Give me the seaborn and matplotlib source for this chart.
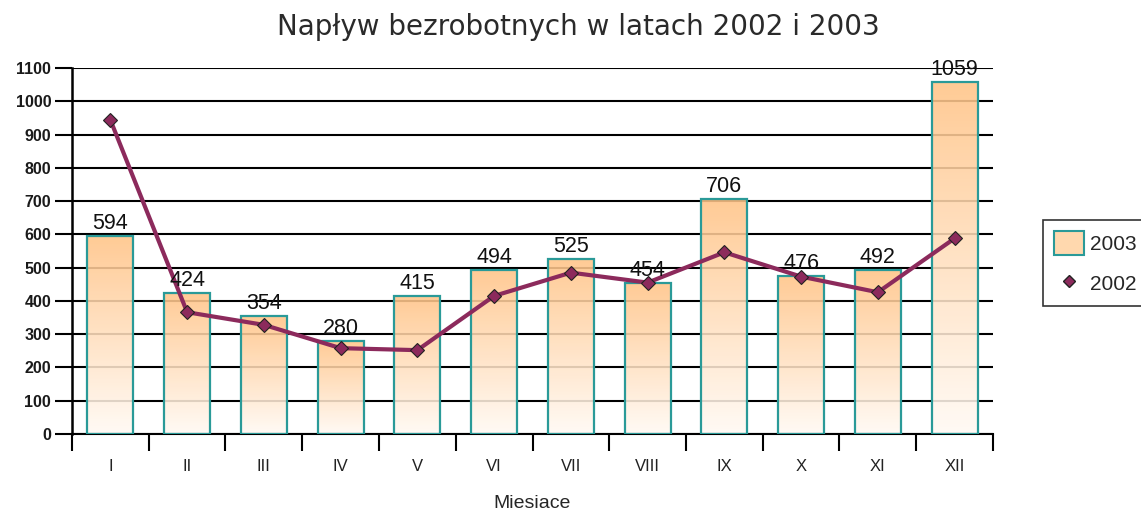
import numpy as np
import pandas as pd
import matplotlib.pyplot as plt
import seaborn as sns
from matplotlib.colors import LinearSegmentedColormap
from matplotlib.patches import Patch
from matplotlib.lines import Line2D

# Data
months = ['I', 'II', 'III', 'IV', 'V', 'VI', 'VII', 'VIII', 'IX', 'X', 'XI', 'XII']
values_2003 = [594, 424, 354, 280, 415, 494, 525, 454, 706, 476, 492, 1059]
values_2002 = [944, 366, 328, 258, 252, 415, 485, 455, 546, 473, 426, 588]
y_ticks = list(range(0, 1101, 100))

title = 'Napływ bezrobotnych w latach 2002 i 2003'
x_label = 'Miesiace'

sns.set_style('white')
plt.rcParams['font.family'] = ['Liberation Sans', 'DejaVu Sans']

df = pd.DataFrame({'month': months, '2003': values_2003, '2002': values_2002})

fig = plt.figure(figsize=(11.41, 5.13), dpi=100)
ax = fig.add_axes([72 / 1141, 1 - 434 / 513, (993 - 72) / 1141, (434 - 68) / 513])

teal = '#2a9a98'
line_col = '#8c2a5c'

sns.barplot(data=df, x='month', y='2003', ax=ax, width=0.6, color='#ffc98c',
            edgecolor=teal, linewidth=1.6, zorder=2)

# gradient fill for each bar
cmap = LinearSegmentedColormap.from_list('bar', ['#fffaf4', '#ffc487'])
grad = np.linspace(0, 1, 256).reshape(-1, 1)
for p in ax.patches:
    x0, w, h = p.get_x(), p.get_width(), p.get_height()
    im = ax.imshow(grad, extent=[x0, x0 + w, 0, h], origin='lower', aspect='auto',
                   cmap=cmap, alpha=0.88, zorder=2)
    im.set_clip_path(p)
    p.set_facecolor('none')
    p.set_zorder(3)

# value labels
for i, v in enumerate(values_2003):
    ax.text(i, v + 6, str(v), ha='center', va='bottom', fontsize=15.5, color='#111111', zorder=6)

sns.pointplot(data=df, x='month', y='2002', ax=ax, color=line_col, markers='D',
              markersize=7, linewidth=3, zorder=5)
for coll in ax.lines:
    coll.set_markeredgecolor('#222222')
    coll.set_markeredgewidth(0.8)

ax.set_xlim(-0.5, 11.5)
ax.set_ylim(0, 1100)
ax.set_yticks(y_ticks)
ax.set_yticklabels([str(t) for t in y_ticks], fontsize=11.5, fontweight='bold',
                   color='#1a1a1a')
ax.yaxis.grid(True, color='black', linewidth=1.5, zorder=0)
ax.set_axisbelow(True)

ax.set_xticks(range(len(months)))
ax.set_xticklabels(months, fontsize=12, color='#222222')
ax.set_xticks(np.arange(-0.5, 12, 1), minor=True)
ax.tick_params(axis='x', which='major', bottom=True, length=0, pad=18)
ax.tick_params(axis='x', which='minor', bottom=True, length=12, width=1.5,
               color='black', direction='out')
ax.tick_params(axis='y', left=True, length=12, width=1.5, color='black',
               direction='out', pad=3)

for side in ['top', 'right']:
    ax.spines[side].set_visible(False)
ax.spines['left'].set_color('black')
ax.spines['left'].set_linewidth(1.8)
ax.spines['bottom'].set_color('black')
ax.spines['bottom'].set_linewidth(1.5)

ax.set_xlabel(x_label, fontsize=14, labelpad=15)
ax.set_ylabel('')
fig.suptitle(title, x=0.507, y=0.975, fontsize=20, color='#2a2a2a',
             family='DejaVu Sans')

handles = [Patch(facecolor='#ffd8ae', edgecolor=teal, linewidth=1.5),
           Line2D([], [], linestyle='none', marker='D', markersize=6,
                  markerfacecolor=line_col, markeredgecolor='#222222')]
leg = fig.legend(handles, ['2003', '2002'], loc='upper left',
                 bbox_to_anchor=(1043 / 1141, 1 - 220 / 513), fontsize=15,
                 frameon=True, fancybox=False, borderpad=0.55, borderaxespad=0,
                 handlelength=1.4, handleheight=1.35, handletextpad=0.3,
                 labelspacing=0.8)
leg.get_frame().set_edgecolor('black')
leg.get_frame().set_linewidth(1.2)

fig.savefig('out.png', dpi=100)
